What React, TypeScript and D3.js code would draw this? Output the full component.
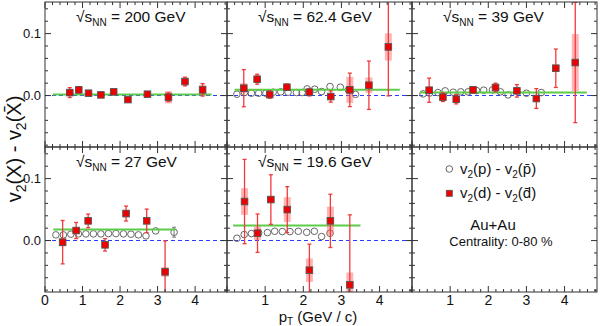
import React from "react";
import * as d3 from "d3";

// ---------- data ----------
const energyLabels = ["200", "62.4", "39", "27", "19.6"];

// deuteron - antideuteron
const dPt200 = [0.66, 0.9, 1.16, 1.49, 1.83, 2.21, 2.73, 3.29, 3.73, 4.2];
const dV200 = [0.0048, 0.0092, 0.0038, 0.0011, 0.006, -0.0065, 0.0022, -0.0026, 0.0226, 0.0092];
const dStat200 = [0.008, 0.005, 0.002, 0.002, 0.003, 0.002, 0.003, 0.007, 0.007, 0.01];
const dSys200 = [0.003, 0.002, 0.001, 0.001, 0.003, 0.001, 0.001, 0.01, 0.002, 0.008];

const dPt62 = [0.44, 0.79, 1.12, 1.57, 2.16, 2.72, 3.22, 3.72, 4.23];
const dV62 = [0.0119, 0.0264, 0.0016, 0.0135, 0.0054, -0.0016, 0.0092, 0.0167, 0.0785];
const dStat62 = [0.03, 0.008, 0.006, 0.005, 0.006, 0.009, 0.027, 0.039, 0.079];
const dSys62 = [0.008, 0.002, 0.002, 0.003, 0.003, 0.002, 0.021, 0.0125, 0.022];

const dPt39 = [0.45, 0.81, 1.16, 1.6, 2.19, 2.75, 3.26, 3.77, 4.28];
const dV39 = [0.0087, -0.0026, -0.0059, 0.0092, 0.013, 0.0076, -0.0048, 0.0441, 0.0533];
const dStat39 = [0.0195, 0.007, 0.0075, 0.005, 0.007, 0.01, 0.016, 0.031, 0.097];
const dSys39 = [0.005, 0.002, 0.002, 0.003, 0.003, 0.002, 0.002, 0.006, 0.046];

const dPt27 = [0.47, 0.83, 1.15, 1.6, 2.16, 2.71, 3.2];
const dV27 = [-0.0026, 0.0162, 0.0318, -0.0069, 0.0436, 0.0318, -0.0505];
const dStat27 = [0.035, 0.013, 0.011, 0.01, 0.012, 0.019, 0.05];
const dSys27 = [0.007, 0.003, 0.002, 0.002, 0.006, 0.002, 0.008];

const dPt19 = [0.46, 0.8, 1.15, 1.58, 2.16, 2.71, 3.22];
const dV19 = [0.063, 0.0119, 0.0662, 0.05, -0.0478, 0.0318, -0.0715];
const dStat19 = [0.068, 0.031, 0.04, 0.037, 0.042, 0.043, 0.113];
const dSys19 = [0.0215, 0.011, 0.004, 0.02, 0.019, 0.023, 0.02];

// proton - antiproton
const pPt200: number[] = [];
const pV200: number[] = [];
const pErr200: number[] = [];

const pPt62 = [0.26, 0.46, 0.64, 0.83, 1.02, 1.21, 1.41, 1.6, 1.82, 1.97, 2.1, 2.3, 2.48, 2.7, 2.97, 3.18, 3.37];
const pV62 = [0.0022, 0.0049, 0.0038, 0.0038, 0.0038, 0.0054, 0.006, 0.0054, 0.0049, 0.0049, 0.0108, 0.0103, 0.0065, 0.0146, 0.0135, 0.0092, 0.002];
const pErr62 = [0.001, 0.001, 0.001, 0.001, 0.001, 0.001, 0.001, 0.001, 0.001, 0.001, 0.001, 0.001, 0.001, 0.002, 0.002, 0.003, 0.005];

const pPt39 = [0.29, 0.46, 0.68, 0.87, 1.08, 1.28, 1.47, 1.69, 1.88, 2.11, 2.32, 2.52, 3.0, 3.39];
const pV39 = [0.0027, 0.004, 0.0049, 0.0076, 0.0054, 0.006, 0.006, 0.0081, 0.0087, 0.0092, 0.006, 0.0011, 0.0038, 0.0049];
const pErr39 = [0.001, 0.001, 0.001, 0.001, 0.001, 0.001, 0.001, 0.001, 0.001, 0.001, 0.001, 0.002, 0.002, 0.005];

const pPt27 = [0.29, 0.49, 0.69, 0.89, 1.09, 1.29, 1.49, 1.69, 1.89, 2.09, 2.29, 2.49, 2.69, 2.95, 3.44];
const pV27 = [0.0092, 0.0092, 0.0103, 0.0108, 0.0108, 0.0108, 0.0108, 0.0113, 0.0113, 0.0108, 0.0103, 0.0092, 0.0076, 0.0156, 0.0135];
const pErr27 = [0.001, 0.001, 0.001, 0.001, 0.001, 0.001, 0.001, 0.001, 0.001, 0.001, 0.001, 0.002, 0.002, 0.004, 0.008];

const pPt19 = [0.26, 0.45, 0.64, 0.83, 1.06, 1.25, 1.45, 1.65, 1.87, 2.09, 2.29, 2.48, 2.7];
const pV19 = [0.0038, 0.0097, 0.0113, 0.0124, 0.0129, 0.015, 0.0145, 0.0145, 0.015, 0.0134, 0.015, 0.0065, 0.0118];
const pErr19 = [0.001, 0.001, 0.001, 0.001, 0.001, 0.001, 0.001, 0.001, 0.001, 0.001, 0.002, 0.005, 0.004];

// constant fits to deuteron difference
const fitV = [0.0016, 0.0092, 0.005, 0.0178, 0.0242];
const fitMin = [0.21, 0.2, 0.21, 0.22, 0.16];
const fitMax = [4.44, 4.53, 4.58, 3.47, 3.5];

// ticks
const xMajorTicks = [0, 1, 2, 3, 4];
const yMajorTicks = [0, 0.1];
const yTickLabels = ["0.0", "0.1"];

const X_DOMAIN: [number, number] = [0, 4.85];
const Y_DOMAIN: [number, number] = [-0.083, 0.151];

const colLeft = [45, 227, 412];
const colRight = [227, 412, 597];
const rowTop = [2, 147];
const rowBottom = [147, 292];

const FONT = "'Liberation Sans', Arial, Helvetica, sans-serif";

type PanelData = {
  label: string;
  dPt: number[]; dV: number[]; dStat: number[]; dSys: number[];
  pPt: number[]; pV: number[]; pErr: number[];
  fit: number; fitMin: number; fitMax: number;
};

const panels: PanelData[] = [
  { label: energyLabels[0], dPt: dPt200, dV: dV200, dStat: dStat200, dSys: dSys200, pPt: pPt200, pV: pV200, pErr: pErr200, fit: fitV[0], fitMin: fitMin[0], fitMax: fitMax[0] },
  { label: energyLabels[1], dPt: dPt62, dV: dV62, dStat: dStat62, dSys: dSys62, pPt: pPt62, pV: pV62, pErr: pErr62, fit: fitV[1], fitMin: fitMin[1], fitMax: fitMax[1] },
  { label: energyLabels[2], dPt: dPt39, dV: dV39, dStat: dStat39, dSys: dSys39, pPt: pPt39, pV: pV39, pErr: pErr39, fit: fitV[2], fitMin: fitMin[2], fitMax: fitMax[2] },
  { label: energyLabels[3], dPt: dPt27, dV: dV27, dStat: dStat27, dSys: dSys27, pPt: pPt27, pV: pV27, pErr: pErr27, fit: fitV[3], fitMin: fitMin[3], fitMax: fitMax[3] },
  { label: energyLabels[4], dPt: dPt19, dV: dV19, dStat: dStat19, dSys: dSys19, pPt: pPt19, pV: pV19, pErr: pErr19, fit: fitV[4], fitMin: fitMin[4], fitMax: fitMax[4] },
];

function Frame({ col, row }: { col: number; row: number }) {
  const xs = d3.scaleLinear().domain(X_DOMAIN).range([colLeft[col], colRight[col]]);
  const ys = d3.scaleLinear().domain(Y_DOMAIN).range([rowBottom[row], rowTop[row]]);
  const l = colLeft[col], r = colRight[col], t = rowTop[row], b = rowBottom[row];
  const xMinor = d3.range(0, 4.81, 0.2).filter((v) => Math.abs(v - Math.round(v)) > 0.01);
  const yMinor = d3.range(-0.08, 0.141, 0.02).filter((v) => Math.abs(v) > 0.001 && Math.abs(v - 0.1) > 0.001);
  const tc = "#333";
  return (
    <g>
      <rect x={l} y={t} width={r - l} height={b - t} fill="none" stroke={tc} strokeWidth={1} />
      {xMajorTicks.map((v) => (
        <g key={"xM" + v}>
          <line x1={xs(v)} x2={xs(v)} y1={b} y2={b - 6} stroke={tc} />
          <line x1={xs(v)} x2={xs(v)} y1={t} y2={t + 6} stroke={tc} />
        </g>
      ))}
      {xMinor.map((v, i) => (
        <g key={"xm" + i}>
          <line x1={xs(v)} x2={xs(v)} y1={b} y2={b - 3} stroke={tc} />
          <line x1={xs(v)} x2={xs(v)} y1={t} y2={t + 3} stroke={tc} />
        </g>
      ))}
      {yMajorTicks.map((v) => (
        <g key={"yM" + v}>
          <line x1={l} x2={l + 6} y1={ys(v)} y2={ys(v)} stroke={tc} />
          <line x1={r} x2={r - 6} y1={ys(v)} y2={ys(v)} stroke={tc} />
        </g>
      ))}
      {yMinor.map((v, i) => (
        <g key={"ym" + i}>
          <line x1={l} x2={l + 3} y1={ys(v)} y2={ys(v)} stroke={tc} />
          <line x1={r} x2={r - 3} y1={ys(v)} y2={ys(v)} stroke={tc} />
        </g>
      ))}
    </g>
  );
}

function Panel({ p, idx }: { p: PanelData; idx: number }) {
  const col = idx % 3, row = Math.floor(idx / 3);
  const xs = d3.scaleLinear().domain(X_DOMAIN).range([colLeft[col], colRight[col]]);
  const ys = d3.scaleLinear().domain(Y_DOMAIN).range([rowBottom[row], rowTop[row]]);
  const l = colLeft[col], r = colRight[col], t = rowTop[row], b = rowBottom[row];
  const clipId = "clip" + idx;
  return (
    <g>
      <defs>
        <clipPath id={clipId}>
          <rect x={l} y={t} width={r - l} height={b - t} />
        </clipPath>
      </defs>
      <g clipPath={`url(#${clipId})`}>
        <line x1={l} x2={r} y1={ys(0)} y2={ys(0)} stroke="#2a3cff" strokeWidth={1.1} strokeDasharray="4 3" />
        {p.pPt.map((pt, i) => (
          <g key={"p" + i}>
            {p.pErr[i] * 620 > 3.5 && (
              <>
                <line x1={xs(pt)} x2={xs(pt)} y1={ys(p.pV[i] + p.pErr[i])} y2={ys(p.pV[i] - p.pErr[i])} stroke="#777" strokeWidth={1} />
                <line x1={xs(pt) - 2} x2={xs(pt) + 2} y1={ys(p.pV[i] + p.pErr[i])} y2={ys(p.pV[i] + p.pErr[i])} stroke="#777" />
                <line x1={xs(pt) - 2} x2={xs(pt) + 2} y1={ys(p.pV[i] - p.pErr[i])} y2={ys(p.pV[i] - p.pErr[i])} stroke="#777" />
              </>
            )}
            <circle cx={xs(pt)} cy={ys(p.pV[i])} r={3.3} fill="none" stroke="#666" strokeWidth={1} />
          </g>
        ))}
        <line x1={xs(p.fitMin)} x2={xs(p.fitMax)} y1={ys(p.fit)} y2={ys(p.fit)} stroke="#5ccc4a" strokeWidth={2} />
        {p.dPt.map((pt, i) => (
          <rect key={"s" + i} x={xs(pt) - 3.5} width={7} y={ys(p.dV[i] + p.dSys[i])} height={Math.max(0.5, ys(p.dV[i] - p.dSys[i]) - ys(p.dV[i] + p.dSys[i]))} fill="rgba(255,90,90,0.45)" />
        ))}
        {p.dPt.map((pt, i) => {
          const y1 = ys(p.dV[i] + p.dStat[i]);
          const y2 = ys(p.dV[i] - p.dStat[i]);
          return (
            <g key={"e" + i} stroke="#f23a3a" strokeWidth={1.3}>
              <line x1={xs(pt)} x2={xs(pt)} y1={y1} y2={y2} />
              <line x1={xs(pt) - 2} x2={xs(pt) + 2} y1={y1} y2={y1} />
              <line x1={xs(pt) - 2} x2={xs(pt) + 2} y1={y2} y2={y2} />
            </g>
          );
        })}
        {p.dPt.map((pt, i) => (
          <rect key={"d" + i} x={xs(pt) - 3.3} y={ys(p.dV[i]) - 3.3} width={6.6} height={6.6} fill="#ee0000" stroke="#555" strokeWidth={0.9} />
        ))}
      </g>
      <text x={l + 31} y={t + 20} fontFamily={FONT} fontSize={15.5} fill="#111">
        <tspan>√s</tspan>
        <tspan dy={4} fontSize={10}>NN</tspan>
        <tspan dy={-4}>{` = ${p.label} GeV`}</tspan>
      </text>
    </g>
  );
}

export default function App() {
  const xsCols = colLeft.map((l, c) => d3.scaleLinear().domain(X_DOMAIN).range([l, colRight[c]]));
  const ysRows = rowTop.map((t, r) => d3.scaleLinear().domain(Y_DOMAIN).range([rowBottom[r], t]));
  return (
    <svg width={600} height={326} style={{ position: "absolute", left: 0, top: 0, background: "#fff" }}>
      <rect x={0} y={0} width={600} height={326} fill="#fff" />
      {panels.map((p, i) => (
        <Panel key={i} p={p} idx={i} />
      ))}
      {[0, 1, 2, 3, 4, 5].map((i) => (
        <Frame key={"f" + i} col={i % 3} row={Math.floor(i / 3)} />
      ))}
      {/* x tick labels */}
      {xsCols.map((xs, c) =>
        xMajorTicks
          .filter((v) => c === 0 || v > 0)
          .map((v) => (
            <text key={`xl${c}-${v}`} x={xs(v)} y={305} textAnchor="middle" fontFamily={FONT} fontSize={14} fill="#111">
              {v}
            </text>
          ))
      )}
      {/* y tick labels */}
      {ysRows.map((ys, r) =>
        yMajorTicks.map((v, k) => (
          <text key={`yl${r}-${k}`} x={41} y={ys(v) + 4.5} textAnchor="end" fontFamily={FONT} fontSize={13} fill="#111">
            {yTickLabels[k]}
          </text>
        ))
      )}
      {/* axis titles */}
      <text transform="translate(21,149) rotate(-90)" textAnchor="middle" fontFamily={FONT} fontSize={20} fill="#111">
        <tspan>v</tspan>
        <tspan dy={5} fontSize={14}>2</tspan>
        <tspan dy={-5}>(X) - v</tspan>
        <tspan dy={5} fontSize={14}>2</tspan>
        <tspan dy={-5}>(X̄)</tspan>
      </text>
      <text x={318} y={322} textAnchor="middle" fontFamily={FONT} fontSize={15} fill="#111">
        <tspan>p</tspan>
        <tspan dy={3} fontSize={10}>T</tspan>
        <tspan dy={-3}> (GeV / c)</tspan>
      </text>
      {/* legend */}
      <circle cx={449.3} cy={169} r={3.3} fill="none" stroke="#666" strokeWidth={1} />
      <text x={460} y={174} fontFamily={FONT} fontSize={15} fill="#111">
        <tspan>v</tspan>
        <tspan dy={4} fontSize={10}>2</tspan>
        <tspan dy={-4}>(p) - v</tspan>
        <tspan dy={4} fontSize={10}>2</tspan>
        <tspan dy={-4}>(p̄)</tspan>
      </text>
      <rect x={446.3} y={190.3} width={6} height={6} fill="#ee0000" stroke="#555" strokeWidth={0.8} />
      <text x={460} y={198} fontFamily={FONT} fontSize={15} fill="#111">
        <tspan>v</tspan>
        <tspan dy={4} fontSize={10}>2</tspan>
        <tspan dy={-4}>(d) - v</tspan>
        <tspan dy={4} fontSize={10}>2</tspan>
        <tspan dy={-4}>(d̄)</tspan>
      </text>
      <text x={493} y={230} textAnchor="middle" fontFamily={FONT} fontSize={15} fill="#111">Au+Au</text>
      <text x={501} y={246} textAnchor="middle" fontFamily={FONT} fontSize={13} fill="#111">Centrality: 0-80 %</text>
    </svg>
  );
}
